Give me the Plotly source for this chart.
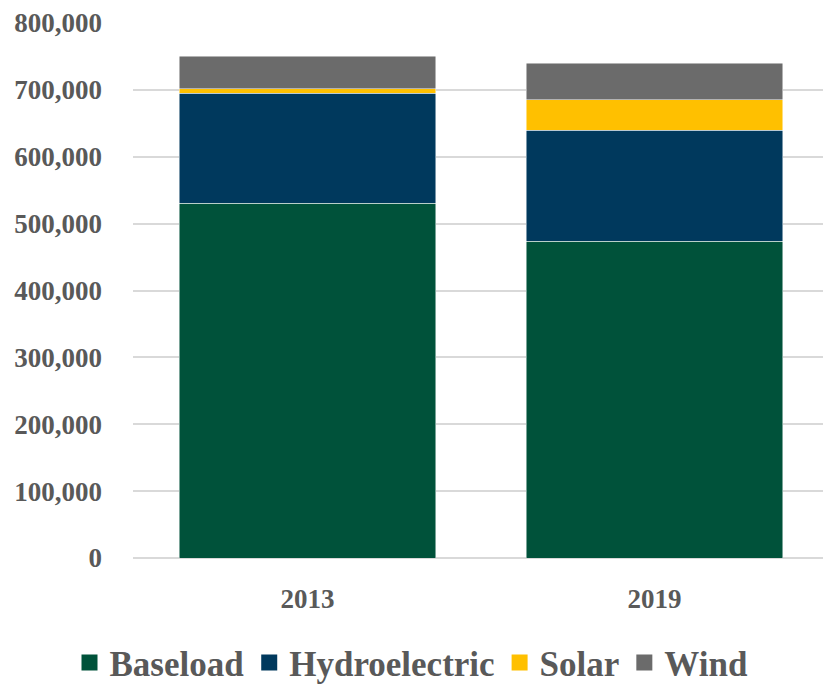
import plotly.graph_objects as go

years = ["2013", "2019"]
baseload = [530500, 474000]
hydro = [164500, 166000]
solar = [6500, 45000]
wind = [48500, 55000]

series = [
    ("Baseload", baseload, "#00523A"),
    ("Hydroelectric", hydro, "#00395D"),
    ("Solar", solar, "#FFC000"),
    ("Wind", wind, "#6B6B6B"),
]

font_family = "Liberation Serif"
txt_color = "#595959"

fig = go.Figure()
for name, vals, col in series:
    fig.add_trace(go.Bar(
        x=years, y=vals, name=name, showlegend=False, legendgroup=name,
        marker=dict(color=col, line=dict(color="rgba(255,255,255,0.6)", width=0.8)),
    ))
# legend entries with larger square swatches
for name, vals, col in series:
    fig.add_trace(go.Scatter(
        x=[None], y=[None], name=name, mode="markers", legendgroup=name,
        marker=dict(symbol="square", size=22, color=col),
        showlegend=True,
    ))

fig.update_layout(
    barmode="stack",
    bargap=0.26,
    width=823, height=684,
    margin=dict(l=133, r=0, t=23, b=126, autoexpand=False),
    plot_bgcolor="white", paper_bgcolor="white",
    font=dict(family=font_family, color=txt_color),
    showlegend=True,
    legend=dict(
        orientation="h", x=0.5, xanchor="center", xref="container",
        y=-0.196, yanchor="middle", yref="paper",
        traceorder="normal", itemsizing="trace",
        font=dict(size=35, family=font_family, color=txt_color, weight="bold"),
        itemwidth=30, tracegroupgap=0,
    ),
    xaxis=dict(
        range=[-0.503, 1.486],
        tickfont=dict(size=27, family=font_family, color=txt_color, weight="bold"),
        showgrid=False, showline=False, ticks="", ticklabelstandoff=22,
    ),
    yaxis=dict(
        range=[0, 800000], dtick=100000, tickformat=",d",
        tickfont=dict(size=27, family=font_family, color=txt_color, weight="bold"),
        showgrid=True, gridcolor="#D9D9D9", gridwidth=1.5,
        zeroline=True, zerolinecolor="#D9D9D9", zerolinewidth=1.5,
        showline=False, ticks="", ticklabelstandoff=30,
    ),
)

fig.write_html(
    "out.html",
    config={"displayModeBar": False},
    post_script="document.body.style.margin='0';document.body.style.overflow='hidden';",
)
